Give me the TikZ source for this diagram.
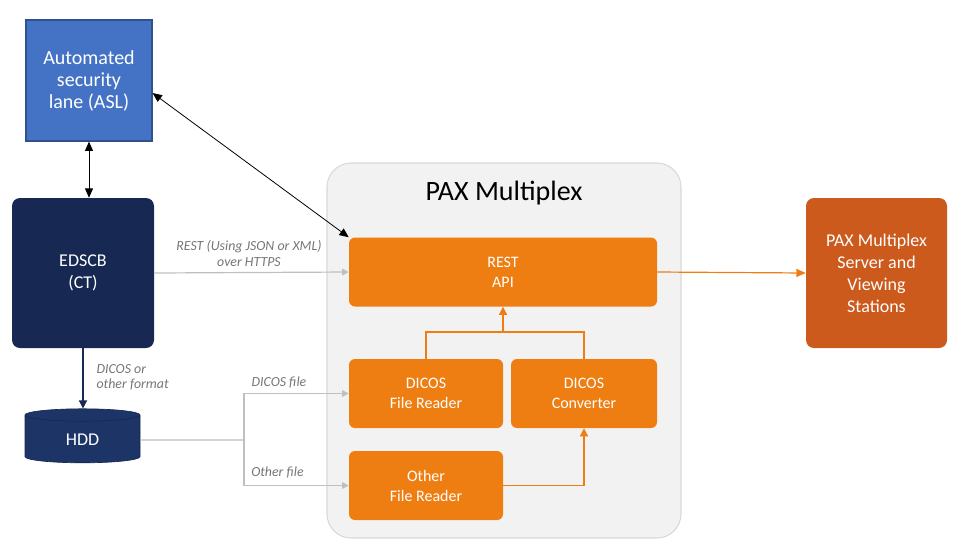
\documentclass[tikz,border=0pt]{standalone}
\usepackage{fontspec}
\setmainfont{Carlito}
\usepackage{xcolor}
\usetikzlibrary{arrows.meta,positioning,shapes.geometric}

\definecolor{aslblue}{HTML}{4472C4}
\definecolor{aslline}{HTML}{2F528F}
\definecolor{navy}{HTML}{172852}
\definecolor{hddnavy}{HTML}{1D3566}
\definecolor{paxorange}{HTML}{EF7E12}
\definecolor{srvorange}{HTML}{CB5A1C}
\definecolor{lightline}{HTML}{BFBFBF}
\definecolor{labelgray}{HTML}{767676}

\begin{document}
\begin{tikzpicture}[
  x=0.75pt, y=-0.75pt,
  font=\fontsize{13.5}{16.5}\selectfont,
  tx/.style={text=white, align=center, inner sep=2pt},
  asl/.style={tx, fill=aslblue, draw=aslline, line width=0.9pt, minimum width=94.5pt, minimum height=90.75pt, font=\fontsize{15}{16.5}\selectfont},
  ct/.style={tx, fill=navy, rounded corners=6pt, minimum width=106.5pt, minimum height=112.5pt},
  blk/.style={tx, fill=paxorange, rounded corners=4.5pt, minimum height=51.75pt, font=\fontsize{12}{15}\selectfont},
  lbl/.style={text=labelgray, font=\fontsize{10.4}{11.5}\selectfont\itshape, align=center, inner sep=1pt},
  dbl/.style={draw=black, line width=0.6pt, {Triangle[length=7pt,width=6pt]}-{Triangle[length=7pt,width=6pt]}},
  lite/.style={draw=lightline, line width=0.9pt},
  org/.style={draw=paxorange, line width=0.9pt},
]
\useasboundingbox (0,0) rectangle (975,551);

\node[draw=black!15, fill=black!5, line width=0.8pt, rounded corners=18pt, minimum width=265.5pt, minimum height=281.25pt] (pax) at (504,350.5) {};
\node[font=\fontsize{21}{24}\selectfont] (paxtitle) at (504,193) {PAX Multiplex};

\node[asl] (asl) at (89,80.5) {Automated\\security\\lane (ASL)};
\node[ct] (edscb) at (83,273) {EDSCB\\(CT)};
\node[cylinder, shape border rotate=90, aspect=0.32, tx, fill=hddnavy, draw=navy, line width=0.5pt, minimum width=86.25pt, minimum height=40.5pt] (hdd) at (82.5,440) {HDD};

\node[blk, minimum width=231pt] (rest) at (503,272) {REST\\API};
\node[blk, minimum width=115.5pt] (dreader) at (426,393.5) {DICOS\\File Reader};
\node[blk, minimum width=109.5pt] (conv) at (584,393.5) {DICOS\\Converter};
\node[blk, minimum width=115.5pt] (oreader) at (426,485.5) {Other\\File Reader};
\node[tx, fill=srvorange, rounded corners=6pt, minimum width=105.75pt, minimum height=112.5pt] (server) at (876.5,273) {PAX Multiplex\\Server and\\Viewing\\Stations};

\draw[dbl] (asl.south) -- (asl.south |- edscb.north);
\draw[dbl] ([yshift=-9.4pt]asl.east) -- (rest.north west);

\draw[draw=navy, line width=0.9pt, -{Triangle[length=6pt,width=6pt]}] (edscb.south) -- (edscb.south |- hdd.north);
\node[lbl, anchor=north west, align=left] (fmtlbl) at (95,363) {DICOS or\\other format};

\draw[lite, -{Triangle[length=5pt,width=5pt]}] (edscb.east) -- (rest.west);
\node[lbl] (restlbl) at (249,253.5) {REST (Using JSON or XML)\\over HTTPS};

\coordinate (hddsplit) at (244,440);
\draw[lite] (hdd.east) -- (hddsplit);
\draw[lite, -{Triangle[length=5pt,width=5pt]}] (hddsplit) |- (dreader.west);
\draw[lite, -{Triangle[length=5pt,width=5pt]}] (hddsplit) |- (oreader.west);
\node[lbl] (dicoslbl) at (279,382) {DICOS file};
\node[lbl] (otherlbl) at (277.5,472) {Other file};

\coordinate (merge) at (503,332);
\draw[org] (dreader.north) |- (merge) -| (conv.north);
\draw[org, -{Triangle[length=6pt,width=6pt]}] (merge) -- (rest.south);
\draw[org, -{Triangle[length=6pt,width=6pt]}] (oreader.east) -| (conv.south);
\draw[org, -{Triangle[length=7pt,width=6pt]}] (rest.east) -- (server.west);
\end{tikzpicture}
\end{document}
